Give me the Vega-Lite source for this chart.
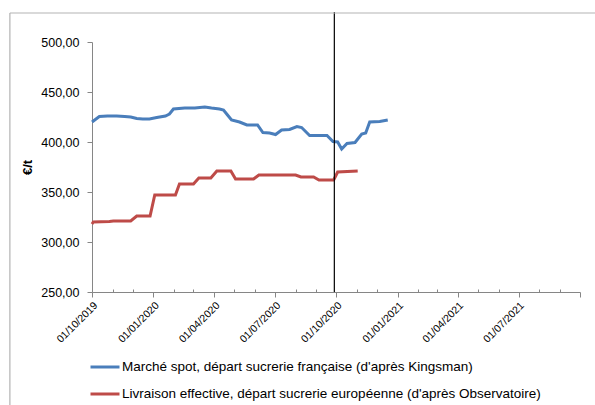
{
  "$schema": "https://vega.github.io/schema/vega-lite/v6.json",
  "width": 488,
  "height": 250,
  "autosize": "none",
  "padding": {"left": 92, "top": 42, "right": 15, "bottom": 113},
  "background": "white",
  "config": {
    "view": {"stroke": null},
    "font": "Liberation Sans"
  },
  "datasets": {
    "prices": [
      {"date": "2019-10-01", "series": "Marché spot, départ sucrerie française (d'après Kingsman)", "value": 420},
      {"date": "2019-10-12", "series": "Marché spot, départ sucrerie française (d'après Kingsman)", "value": 425.5},
      {"date": "2019-10-24", "series": "Marché spot, départ sucrerie française (d'après Kingsman)", "value": 426},
      {"date": "2019-11-07", "series": "Marché spot, départ sucrerie française (d'après Kingsman)", "value": 426},
      {"date": "2019-11-19", "series": "Marché spot, départ sucrerie française (d'après Kingsman)", "value": 425.5},
      {"date": "2019-11-28", "series": "Marché spot, départ sucrerie française (d'après Kingsman)", "value": 425},
      {"date": "2019-12-07", "series": "Marché spot, départ sucrerie française (d'après Kingsman)", "value": 423.5},
      {"date": "2019-12-16", "series": "Marché spot, départ sucrerie française (d'après Kingsman)", "value": 423},
      {"date": "2019-12-26", "series": "Marché spot, départ sucrerie française (d'après Kingsman)", "value": 423},
      {"date": "2020-01-06", "series": "Marché spot, départ sucrerie française (d'après Kingsman)", "value": 424.5},
      {"date": "2020-01-19", "series": "Marché spot, départ sucrerie française (d'après Kingsman)", "value": 426},
      {"date": "2020-01-25", "series": "Marché spot, départ sucrerie française (d'après Kingsman)", "value": 428},
      {"date": "2020-01-31", "series": "Marché spot, départ sucrerie française (d'après Kingsman)", "value": 433},
      {"date": "2020-02-17", "series": "Marché spot, départ sucrerie française (d'après Kingsman)", "value": 434},
      {"date": "2020-03-03", "series": "Marché spot, départ sucrerie française (d'après Kingsman)", "value": 434},
      {"date": "2020-03-18", "series": "Marché spot, départ sucrerie française (d'après Kingsman)", "value": 435},
      {"date": "2020-03-28", "series": "Marché spot, départ sucrerie française (d'après Kingsman)", "value": 434},
      {"date": "2020-04-09", "series": "Marché spot, départ sucrerie française (d'après Kingsman)", "value": 433},
      {"date": "2020-04-15", "series": "Marché spot, départ sucrerie française (d'après Kingsman)", "value": 432},
      {"date": "2020-04-21", "series": "Marché spot, départ sucrerie française (d'après Kingsman)", "value": 427},
      {"date": "2020-04-27", "series": "Marché spot, départ sucrerie française (d'après Kingsman)", "value": 422},
      {"date": "2020-05-09", "series": "Marché spot, départ sucrerie française (d'après Kingsman)", "value": 420},
      {"date": "2020-05-20", "series": "Marché spot, départ sucrerie française (d'après Kingsman)", "value": 417},
      {"date": "2020-06-05", "series": "Marché spot, départ sucrerie française (d'après Kingsman)", "value": 417},
      {"date": "2020-06-13", "series": "Marché spot, départ sucrerie française (d'après Kingsman)", "value": 409.5},
      {"date": "2020-06-23", "series": "Marché spot, départ sucrerie française (d'après Kingsman)", "value": 409},
      {"date": "2020-07-02", "series": "Marché spot, départ sucrerie française (d'après Kingsman)", "value": 407.5},
      {"date": "2020-07-11", "series": "Marché spot, départ sucrerie française (d'après Kingsman)", "value": 412},
      {"date": "2020-07-23", "series": "Marché spot, départ sucrerie française (d'après Kingsman)", "value": 412.5},
      {"date": "2020-08-03", "series": "Marché spot, départ sucrerie française (d'après Kingsman)", "value": 415.5},
      {"date": "2020-08-10", "series": "Marché spot, départ sucrerie française (d'après Kingsman)", "value": 414.5},
      {"date": "2020-08-22", "series": "Marché spot, départ sucrerie française (d'après Kingsman)", "value": 406.5},
      {"date": "2020-09-03", "series": "Marché spot, départ sucrerie française (d'après Kingsman)", "value": 406.5},
      {"date": "2020-09-17", "series": "Marché spot, départ sucrerie française (d'après Kingsman)", "value": 406.5},
      {"date": "2020-09-26", "series": "Marché spot, départ sucrerie française (d'après Kingsman)", "value": 400.5},
      {"date": "2020-10-03", "series": "Marché spot, départ sucrerie française (d'après Kingsman)", "value": 400},
      {"date": "2020-10-09", "series": "Marché spot, départ sucrerie française (d'après Kingsman)", "value": 393},
      {"date": "2020-10-17", "series": "Marché spot, départ sucrerie française (d'après Kingsman)", "value": 398.5},
      {"date": "2020-10-29", "series": "Marché spot, départ sucrerie française (d'après Kingsman)", "value": 399.5},
      {"date": "2020-11-08", "series": "Marché spot, départ sucrerie française (d'après Kingsman)", "value": 408},
      {"date": "2020-11-14", "series": "Marché spot, départ sucrerie française (d'après Kingsman)", "value": 409},
      {"date": "2020-11-20", "series": "Marché spot, départ sucrerie française (d'après Kingsman)", "value": 420},
      {"date": "2020-12-05", "series": "Marché spot, départ sucrerie française (d'après Kingsman)", "value": 420.5},
      {"date": "2020-12-17", "series": "Marché spot, départ sucrerie française (d'après Kingsman)", "value": 422},
      {"date": "2019-10-01", "series": "Livraison effective, départ sucrerie européenne (d'après Observatoire)", "value": 318},
      {"date": "2019-10-03", "series": "Livraison effective, départ sucrerie européenne (d'après Observatoire)", "value": 320},
      {"date": "2019-10-27", "series": "Livraison effective, départ sucrerie européenne (d'après Observatoire)", "value": 320.5},
      {"date": "2019-11-02", "series": "Livraison effective, départ sucrerie européenne (d'après Observatoire)", "value": 321},
      {"date": "2019-11-28", "series": "Livraison effective, départ sucrerie européenne (d'après Observatoire)", "value": 321},
      {"date": "2019-12-07", "series": "Livraison effective, départ sucrerie européenne (d'après Observatoire)", "value": 326},
      {"date": "2019-12-27", "series": "Livraison effective, départ sucrerie européenne (d'après Observatoire)", "value": 326},
      {"date": "2020-01-03", "series": "Livraison effective, départ sucrerie européenne (d'après Observatoire)", "value": 347},
      {"date": "2020-02-03", "series": "Livraison effective, départ sucrerie européenne (d'après Observatoire)", "value": 347},
      {"date": "2020-02-09", "series": "Livraison effective, départ sucrerie européenne (d'après Observatoire)", "value": 358},
      {"date": "2020-03-01", "series": "Livraison effective, départ sucrerie européenne (d'après Observatoire)", "value": 358},
      {"date": "2020-03-09", "series": "Livraison effective, départ sucrerie européenne (d'après Observatoire)", "value": 364},
      {"date": "2020-03-27", "series": "Livraison effective, départ sucrerie européenne (d'après Observatoire)", "value": 364},
      {"date": "2020-04-05", "series": "Livraison effective, départ sucrerie européenne (d'après Observatoire)", "value": 371},
      {"date": "2020-04-26", "series": "Livraison effective, départ sucrerie européenne (d'après Observatoire)", "value": 371},
      {"date": "2020-05-03", "series": "Livraison effective, départ sucrerie européenne (d'après Observatoire)", "value": 363},
      {"date": "2020-05-30", "series": "Livraison effective, départ sucrerie européenne (d'après Observatoire)", "value": 363},
      {"date": "2020-06-07", "series": "Livraison effective, départ sucrerie européenne (d'après Observatoire)", "value": 367},
      {"date": "2020-08-01", "series": "Livraison effective, départ sucrerie européenne (d'après Observatoire)", "value": 367},
      {"date": "2020-08-09", "series": "Livraison effective, départ sucrerie européenne (d'après Observatoire)", "value": 365},
      {"date": "2020-08-28", "series": "Livraison effective, départ sucrerie européenne (d'après Observatoire)", "value": 365},
      {"date": "2020-09-05", "series": "Livraison effective, départ sucrerie européenne (d'après Observatoire)", "value": 362},
      {"date": "2020-09-27", "series": "Livraison effective, départ sucrerie européenne (d'après Observatoire)", "value": 362},
      {"date": "2020-10-03", "series": "Livraison effective, départ sucrerie européenne (d'après Observatoire)", "value": 370},
      {"date": "2020-11-02", "series": "Livraison effective, départ sucrerie européenne (d'après Observatoire)", "value": 371}
    ]
  },
  "resolve": {"axis": {"x": "independent", "y": "independent"}},
  "layer": [
    {
      "data": {"name": "prices"},
      "mark": {"type": "line", "strokeWidth": 3, "interpolate": "linear"},
      "encoding": {
        "x": {
          "field": "date",
          "type": "temporal",
          "scale": {"type": "utc", "domain": [{"year": 2019, "month": 10, "date": 1, "utc": true}, {"year": 2021, "month": 10, "date": 1, "utc": true}], "nice": false},
          "axis": {
            "title": null,
            "orient": "bottom",
            "values": [
              {"year": 2019, "month": 10, "date": 1, "utc": true},
              {"year": 2020, "month": 1, "date": 1, "utc": true},
              {"year": 2020, "month": 4, "date": 1, "utc": true},
              {"year": 2020, "month": 7, "date": 1, "utc": true},
              {"year": 2020, "month": 10, "date": 1, "utc": true},
              {"year": 2021, "month": 1, "date": 1, "utc": true},
              {"year": 2021, "month": 4, "date": 1, "utc": true},
              {"year": 2021, "month": 7, "date": 1, "utc": true},
              {"year": 2021, "month": 10, "date": 1, "utc": true}
            ],
            "labelExpr": "datum.value >= utc(2021, 8, 15) ? '' : utcFormat(datum.value, '%d/%m/%Y')",
            "labelAngle": -45,
            "labelFontSize": 10.5,
            "labelColor": "#000000",
            "labelPadding": 3,
            "labelFlush": false,
            "labelOverlap": false,
            "domainColor": "#868686",
            "tickColor": "#868686",
            "tickSize": 5,
            "grid": false
          }
        },
        "y": {
          "field": "value",
          "type": "quantitative",
          "scale": {"domain": [250, 500], "nice": false, "zero": false},
          "axis": {
            "title": "€/t",
            "titleFontWeight": "bold",
            "titleFontSize": 13,
            "titleColor": "#000000",
            "titleX": -58,
            "titleY": 125,
            "values": [250, 300, 350, 400, 450, 500],
            "labelExpr": "replace(format(datum.value, '.2f'), '.', ',')",
            "labelFontSize": 12.5,
            "labelColor": "#000000",
            "labelPadding": 8,
            "domainColor": "#868686",
            "tickColor": "#868686",
            "tickSize": 5,
            "grid": false
          }
        },
        "color": {
          "field": "series",
          "type": "nominal",
          "scale": {
            "domain": ["Marché spot, départ sucrerie française (d'après Kingsman)", "Livraison effective, départ sucrerie européenne (d'après Observatoire)"],
            "range": ["#4A7EBB", "#BE4B48"]
          },
          "legend": {
            "title": null,
            "orient": "none",
            "legendX": -3,
            "legendY": 309,
            "direction": "vertical",
            "padding": 0,
            "symbolType": "stroke",
            "symbolSize": 841,
            "symbolStrokeWidth": 3,
            "labelFontSize": 13.5,
            "labelColor": "#000000",
            "labelOffset": 1,
            "labelLimit": 0,
            "rowPadding": 4
          }
        }
      }
    },
    {
      "data": {"values": [{}]},
      "mark": {"type": "rule", "color": "#000000", "strokeWidth": 1.2},
      "encoding": {
        "x": {
          "datum": {"year": 2020, "month": 9, "date": 28, "utc": true},
          "type": "temporal",
          "axis": {
            "title": null,
            "orient": "bottom",
            "labels": false,
            "domain": false,
            "grid": false,
            "tickColor": "#868686",
            "tickSize": -3,
            "values": [
              {"year": 2019, "month": 11, "date": 1, "utc": true},
              {"year": 2019, "month": 12, "date": 1, "utc": true},
              {"year": 2020, "month": 2, "date": 1, "utc": true},
              {"year": 2020, "month": 3, "date": 1, "utc": true},
              {"year": 2020, "month": 5, "date": 1, "utc": true},
              {"year": 2020, "month": 6, "date": 1, "utc": true},
              {"year": 2020, "month": 8, "date": 1, "utc": true},
              {"year": 2020, "month": 9, "date": 1, "utc": true},
              {"year": 2020, "month": 11, "date": 1, "utc": true},
              {"year": 2020, "month": 12, "date": 1, "utc": true},
              {"year": 2021, "month": 2, "date": 1, "utc": true},
              {"year": 2021, "month": 3, "date": 1, "utc": true},
              {"year": 2021, "month": 5, "date": 1, "utc": true},
              {"year": 2021, "month": 6, "date": 1, "utc": true},
              {"year": 2021, "month": 8, "date": 1, "utc": true},
              {"year": 2021, "month": 9, "date": 1, "utc": true}
            ]
          }
        },
        "y": {"datum": 250, "type": "quantitative", "axis": null},
        "y2": {"datum": 530}
      }
    },
    {
      "data": {"values": [{}]},
      "mark": {"type": "rule", "color": "#B3B3B3", "strokeWidth": 1.2},
      "encoding": {
        "x": {"datum": {"year": 2019, "month": 5, "date": 31, "utc": true}, "type": "temporal", "axis": null},
        "x2": {"datum": {"year": 2022, "month": 1, "date": 1, "utc": true}},
        "y": {"datum": 529, "type": "quantitative", "axis": null}
      }
    },
    {
      "data": {"values": [{}]},
      "mark": {"type": "rule", "color": "#B3B3B3", "strokeWidth": 1.2},
      "encoding": {
        "x": {"datum": {"year": 2019, "month": 5, "date": 31, "utc": true}, "type": "temporal", "axis": null},
        "y": {"datum": 100, "type": "quantitative", "axis": null},
        "y2": {"datum": 529}
      }
    }
  ]
}
